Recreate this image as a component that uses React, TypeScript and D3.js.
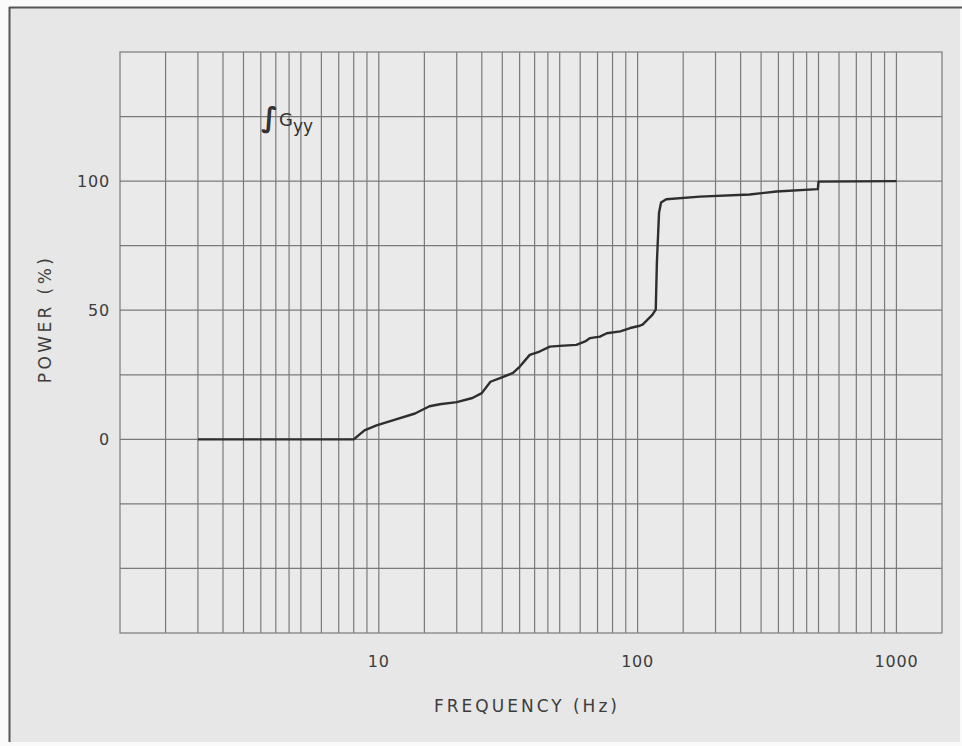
import React, { useEffect, useRef } from 'react'
import * as d3 from 'd3'

// cumulative power curve
const freqHz = [2, 8, 8.8, 9.8, 11.4, 13.8, 15.7, 17.2, 20, 23, 25, 27, 29.4, 33, 35, 38.3, 41.8, 45.8, 50, 58, 62.7, 65.5, 71.5, 76, 85.7, 93.6, 102, 104.5, 114, 117.5, 118.7, 121, 123.2, 129, 174, 271, 344, 497, 500, 1000]
const powerPct = [0, 0, 3.5, 5.4, 7.4, 10, 12.8, 13.6, 14.4, 16, 17.9, 22.3, 23.7, 25.7, 28.1, 32.7, 34, 35.9, 36.2, 36.6, 37.9, 39.2, 39.8, 41.1, 41.8, 43.1, 44, 44.4, 48.2, 50.2, 68.4, 87.8, 91.7, 93, 94, 94.8, 96, 96.9, 99.8, 100]

// log paper grid lines
const gridFreqs = [
  1.5, 2, 2.5, 3, 3.5, 4, 4.5, 5, 6, 7, 8, 9,
  10, 15, 20, 25, 30, 35, 40, 45, 50, 60, 70, 80, 90,
  100, 150, 200, 250, 300, 350, 400, 450, 500, 600, 700, 800, 900, 1000,
]
const gridPower = [-50, -25, 0, 25, 50, 75, 100, 125]
const xTickLabels = [10, 100, 1000]
const yTickLabels = [0, 50, 100]

const App = () => {
  const ref = useRef<SVGSVGElement>(null)

  useEffect(() => {
    const svg = d3.select(ref.current)
    svg.selectAll('*').remove()

    const left = 120, right = 942, top = 52, bottom = 633
    const ink = '#3d3d3d'
    const font = '"DejaVu Sans", sans-serif'

    // page background + frame
    svg.append('rect').attr('x', 0).attr('y', 0).attr('width', 962).attr('height', 746).attr('fill', '#fafafa')
    svg.append('rect').attr('x', 10).attr('y', 8).attr('width', 950).attr('height', 734).attr('fill', '#e7e7e7')
    svg.append('line').attr('x1', 9).attr('x2', 962).attr('y1', 7.5).attr('y2', 7.5)
      .attr('stroke', '#555').attr('stroke-width', 2)
    svg.append('line').attr('x1', 9.5).attr('x2', 9.5).attr('y1', 7).attr('y2', 742)
      .attr('stroke', '#555').attr('stroke-width', 2)

    const x = d3.scaleLog().domain([1, 1500]).range([left, right])
    const y = d3.scaleLinear().domain([-75, 150]).range([bottom, top])

    const g = svg.append('g')
    g.append('rect').attr('x', left).attr('y', top).attr('width', right - left).attr('height', bottom - top)
      .attr('fill', '#eaeaea').attr('stroke', '#7a7a7a').attr('stroke-width', 1.2)

    g.selectAll('line.vgrid')
      .data(gridFreqs)
      .enter()
      .append('line')
      .attr('class', 'vgrid')
      .attr('x1', (d) => x(d)).attr('x2', (d) => x(d))
      .attr('y1', top).attr('y2', bottom)
      .attr('stroke', '#7a7a7a').attr('stroke-width', 1.2)

    g.selectAll('line.hgrid')
      .data(gridPower)
      .enter()
      .append('line')
      .attr('class', 'hgrid')
      .attr('x1', left).attr('x2', right)
      .attr('y1', (d) => y(d)).attr('y2', (d) => y(d))
      .attr('stroke', '#7a7a7a').attr('stroke-width', 1.2)

    // tick labels
    g.selectAll('text.xt')
      .data(xTickLabels)
      .enter()
      .append('text')
      .attr('class', 'xt')
      .attr('x', (d) => x(d))
      .attr('y', bottom + 34)
      .attr('text-anchor', 'middle')
      .attr('font-family', font).attr('font-size', 16).attr('fill', ink)
      .attr('letter-spacing', 0.8)
      .text((d) => d)

    g.selectAll('text.yt')
      .data(yTickLabels)
      .enter()
      .append('text')
      .attr('class', 'yt')
      .attr('x', left - 10)
      .attr('y', (d) => y(d) + 6)
      .attr('text-anchor', 'end')
      .attr('font-family', font).attr('font-size', 16).attr('fill', ink)
      .attr('letter-spacing', 0.8)
      .text((d) => d)

    // axis titles
    g.append('text')
      .attr('x', 527).attr('y', 712)
      .attr('text-anchor', 'middle')
      .attr('font-family', font).attr('font-size', 17).attr('fill', ink)
      .attr('letter-spacing', 3)
      .text('FREQUENCY (Hz)')

    g.append('text')
      .attr('transform', 'translate(51,319)rotate(-90)')
      .attr('text-anchor', 'middle')
      .attr('font-family', font).attr('font-size', 17).attr('fill', ink)
      .attr('letter-spacing', 3.4)
      .text('POWER (%)')

    // curve label
    const lbl = g.append('text')
      .attr('x', 261).attr('y', 127)
      .attr('font-family', font).attr('fill', '#333')
    lbl.append('tspan').attr('font-size', 28).attr('font-weight', 'bold').attr('font-style', 'italic').text('∫')
    lbl.append('tspan').attr('font-size', 18).attr('dx', 1).attr('dy', -1).text('G')
    lbl.append('tspan').attr('font-size', 17).attr('dy', 6).text('yy')

    // curve
    const pts = freqHz.map((f, i) => [f, powerPct[i]] as [number, number])
    const line = d3.line<[number, number]>()
      .x((d) => x(d[0]))
      .y((d) => y(d[1]))
      .curve(d3.curveLinear)
    g.append('path')
      .datum(pts)
      .attr('d', line)
      .attr('fill', 'none')
      .attr('stroke', '#2e2e2e')
      .attr('stroke-width', 2.4)
      .attr('stroke-linejoin', 'round')
  }, [])

  return (
    <div style={{ position: 'absolute', left: 0, top: 0 }}>
      <svg ref={ref} width={962} height={746} style={{ display: 'block' }} />
    </div>
  )
}

export default App
